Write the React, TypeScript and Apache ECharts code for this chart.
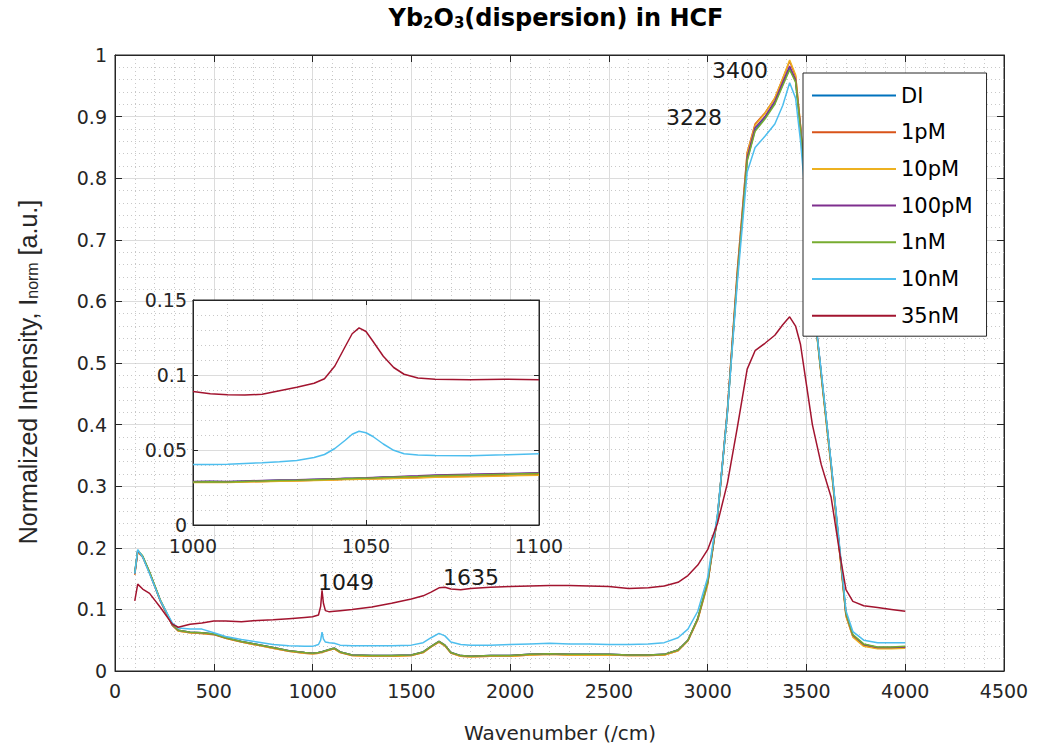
import React, { useEffect, useRef } from "react";
import * as echarts from "echarts";

// ---------- data (main spectrum) ----------
const wavenumbers = [
  100, 115, 140, 175, 230, 290, 320, 380,
  440, 500, 560, 640, 720, 800, 880, 960,
  1000, 1030, 1041, 1048, 1055, 1065, 1085, 1110,
  1140, 1200, 1300, 1400, 1500, 1560, 1600, 1640,
  1670, 1700, 1750, 1800, 1900, 2000, 2100, 2200,
  2300, 2400, 2500, 2600, 2700, 2780, 2850, 2900,
  2950, 3000, 3050, 3100, 3150, 3200, 3240, 3290,
  3340, 3380, 3415, 3445, 3470, 3500, 3530, 3575,
  3625, 3670, 3700, 3735, 3790, 3860, 3930, 4000,
];

const diValues = [
  0.158, 0.195, 0.186, 0.160, 0.114, 0.075, 0.066, 0.063,
  0.062, 0.060, 0.054, 0.048, 0.043, 0.038, 0.033, 0.030,
  0.029, 0.030, 0.031, 0.031, 0.032, 0.033, 0.035, 0.037,
  0.031, 0.026, 0.025, 0.025, 0.026, 0.031, 0.040, 0.048,
  0.042, 0.030, 0.025, 0.024, 0.025, 0.025, 0.027, 0.028,
  0.027, 0.027, 0.027, 0.026, 0.026, 0.027, 0.034, 0.050,
  0.085, 0.143, 0.250, 0.420, 0.640, 0.830, 0.878, 0.898,
  0.922, 0.952, 0.978, 0.958, 0.880, 0.760, 0.615, 0.482,
  0.335, 0.190, 0.092, 0.058, 0.043, 0.038, 0.038, 0.039,
];

const pM1Values = [
  0.156, 0.193, 0.185, 0.159, 0.113, 0.074, 0.065, 0.062,
  0.061, 0.059, 0.053, 0.047, 0.042, 0.037, 0.032, 0.029,
  0.028, 0.029, 0.030, 0.030, 0.031, 0.032, 0.034, 0.036,
  0.030, 0.025, 0.024, 0.024, 0.025, 0.030, 0.039, 0.047,
  0.041, 0.029, 0.024, 0.023, 0.024, 0.024, 0.026, 0.027,
  0.026, 0.026, 0.026, 0.025, 0.025, 0.026, 0.033, 0.049,
  0.084, 0.142, 0.252, 0.425, 0.650, 0.842, 0.888, 0.906,
  0.930, 0.962, 0.990, 0.966, 0.885, 0.762, 0.615, 0.480,
  0.332, 0.187, 0.090, 0.056, 0.041, 0.037, 0.037, 0.038,
];

const pM10Values = [
  0.157, 0.194, 0.185, 0.160, 0.114, 0.075, 0.065, 0.062,
  0.061, 0.060, 0.053, 0.047, 0.042, 0.037, 0.032, 0.029,
  0.028, 0.029, 0.030, 0.030, 0.031, 0.032, 0.034, 0.036,
  0.030, 0.025, 0.024, 0.024, 0.025, 0.030, 0.039, 0.047,
  0.041, 0.029, 0.024, 0.023, 0.024, 0.024, 0.026, 0.027,
  0.026, 0.026, 0.026, 0.025, 0.025, 0.026, 0.033, 0.049,
  0.083, 0.140, 0.250, 0.423, 0.648, 0.840, 0.886, 0.905,
  0.930, 0.962, 0.992, 0.968, 0.886, 0.762, 0.613, 0.478,
  0.330, 0.185, 0.089, 0.055, 0.040, 0.036, 0.036, 0.037,
];

const pM100Values = [
  0.158, 0.195, 0.186, 0.160, 0.114, 0.075, 0.066, 0.063,
  0.062, 0.060, 0.054, 0.048, 0.043, 0.038, 0.033, 0.030,
  0.029, 0.030, 0.031, 0.031, 0.032, 0.033, 0.035, 0.037,
  0.031, 0.026, 0.025, 0.025, 0.026, 0.031, 0.040, 0.048,
  0.042, 0.030, 0.025, 0.024, 0.025, 0.025, 0.027, 0.028,
  0.027, 0.027, 0.027, 0.026, 0.026, 0.027, 0.034, 0.050,
  0.085, 0.144, 0.252, 0.422, 0.642, 0.834, 0.882, 0.900,
  0.925, 0.956, 0.982, 0.960, 0.882, 0.762, 0.616, 0.483,
  0.336, 0.191, 0.093, 0.058, 0.043, 0.038, 0.038, 0.039,
];

const nM1Values = [
  0.160, 0.196, 0.187, 0.161, 0.115, 0.076, 0.066, 0.063,
  0.062, 0.060, 0.054, 0.048, 0.043, 0.038, 0.033, 0.030,
  0.029, 0.030, 0.031, 0.031, 0.032, 0.033, 0.035, 0.037,
  0.031, 0.026, 0.025, 0.025, 0.026, 0.031, 0.040, 0.048,
  0.042, 0.030, 0.025, 0.024, 0.025, 0.025, 0.027, 0.028,
  0.027, 0.027, 0.027, 0.026, 0.026, 0.027, 0.034, 0.050,
  0.086, 0.145, 0.253, 0.420, 0.638, 0.828, 0.876, 0.896,
  0.920, 0.950, 0.976, 0.956, 0.878, 0.758, 0.614, 0.482,
  0.336, 0.192, 0.094, 0.059, 0.044, 0.039, 0.039, 0.040,
];

const nM10Values = [
  0.158, 0.197, 0.185, 0.158, 0.114, 0.078, 0.070, 0.068,
  0.068, 0.062, 0.056, 0.051, 0.047, 0.043, 0.041, 0.040,
  0.040, 0.043, 0.050, 0.063, 0.052, 0.047, 0.046, 0.045,
  0.042, 0.041, 0.041, 0.041, 0.042, 0.046, 0.054, 0.061,
  0.057, 0.047, 0.043, 0.042, 0.042, 0.043, 0.044, 0.045,
  0.044, 0.044, 0.043, 0.043, 0.044, 0.046, 0.054, 0.068,
  0.097, 0.152, 0.255, 0.420, 0.630, 0.810, 0.850, 0.868,
  0.888, 0.918, 0.955, 0.930, 0.860, 0.750, 0.612, 0.486,
  0.338, 0.196, 0.098, 0.064, 0.050, 0.046, 0.046, 0.046,
];

const nM35Values = [
  0.114, 0.141, 0.133, 0.126, 0.103, 0.076, 0.071, 0.076,
  0.078, 0.081, 0.081, 0.080, 0.082, 0.083, 0.085, 0.087,
  0.088, 0.091, 0.105, 0.131, 0.110, 0.098, 0.096, 0.097,
  0.098, 0.100, 0.104, 0.110, 0.117, 0.122, 0.128, 0.135,
  0.136, 0.133, 0.132, 0.134, 0.136, 0.137, 0.138, 0.139,
  0.139, 0.138, 0.137, 0.134, 0.135, 0.138, 0.144, 0.155,
  0.172, 0.197, 0.240, 0.305, 0.395, 0.490, 0.520, 0.532,
  0.545, 0.562, 0.575, 0.560, 0.530, 0.465, 0.400, 0.335,
  0.282, 0.188, 0.132, 0.113, 0.106, 0.103, 0.100, 0.097,
];

// ---------- data (inset, 1000-1100 /cm) ----------
const insetWavenumbers = [
  1000, 1005, 1010, 1015, 1020, 1025, 1030, 1035, 1038, 1041, 1044, 1046,
  1048, 1050, 1052, 1055, 1058, 1061, 1065, 1070, 1080, 1090, 1100,
];
const insetDi = [
  0.0288, 0.029, 0.0288, 0.0292, 0.0295, 0.0298, 0.030, 0.0303, 0.0305, 0.0307, 0.031, 0.031,
  0.0312, 0.0313, 0.0315, 0.0318, 0.032, 0.0322, 0.0325, 0.033, 0.0335, 0.034, 0.0345,
];
const insetPM1 = [
  0.0285, 0.0287, 0.0285, 0.0288, 0.029, 0.0293, 0.0295, 0.0298, 0.030, 0.0302, 0.0305, 0.0305,
  0.0307, 0.0308, 0.0308, 0.031, 0.0312, 0.0314, 0.0316, 0.032, 0.0325, 0.033, 0.0335,
];
const insetPM10 = [
  0.0283, 0.0285, 0.0284, 0.0287, 0.0289, 0.0292, 0.0294, 0.0297, 0.0299, 0.030, 0.0303, 0.0304,
  0.0305, 0.0306, 0.0307, 0.0308, 0.031, 0.0312, 0.0314, 0.0318, 0.0322, 0.0327, 0.0332,
];
const insetPM100 = [
  0.029, 0.0292, 0.029, 0.0294, 0.0297, 0.030, 0.0302, 0.0305, 0.0307, 0.0309, 0.0311, 0.0312,
  0.0314, 0.0315, 0.0317, 0.032, 0.0322, 0.0325, 0.0328, 0.0333, 0.0338, 0.0343, 0.0348,
];
const insetNM1 = [
  0.0287, 0.0289, 0.0286, 0.029, 0.0294, 0.0297, 0.0299, 0.0302, 0.0304, 0.0306, 0.0309, 0.031,
  0.0311, 0.0312, 0.0314, 0.0317, 0.0319, 0.0321, 0.0324, 0.0329, 0.0334, 0.0339, 0.0344,
];
const insetNM10 = [
  0.0404, 0.0403, 0.0405, 0.041, 0.0415, 0.0422, 0.043, 0.045, 0.047, 0.051, 0.0565, 0.0605,
  0.0625, 0.0615, 0.059, 0.054, 0.0498, 0.0475, 0.0467, 0.0463, 0.0462, 0.0468, 0.0475,
];
const insetNM35 = [
  0.089, 0.0875, 0.0868, 0.0866, 0.0872, 0.0895, 0.0918, 0.0945, 0.0975, 0.106, 0.119, 0.1275,
  0.1314, 0.129, 0.1225, 0.1125, 0.105, 0.1005, 0.098, 0.0972, 0.0968, 0.0972, 0.0968,
];

const seriesNames = ["DI", "1pM", "10pM", "100pM", "1nM", "10nM", "35nM"];
const seriesColors = ["#0072BD", "#D95319", "#EDB120", "#7E2F8E", "#77AC30", "#4DBEEE", "#A2142F"];
const mainValues = [diValues, pM1Values, pM10Values, pM100Values, nM1Values, nM10Values, nM35Values];
const insetValues = [insetDi, insetPM1, insetPM10, insetPM100, insetNM1, insetNM10, insetNM35];

const titleText = "Yb{s|2}O{s|3}(dispersion) in HCF";
const xAxisTitle = "Wavenumber (/cm)";
const yAxisTitle = "Normalized Intensity, I{s|norm} [a.u.]";
const annotations = [
  { text: "3400", x: 740, y: 70 },
  { text: "3228", x: 694, y: 117 },
  { text: "1049", x: 346, y: 582 },
  { text: "1635", x: 471, y: 577 },
];

const WIDE = "DejaVu Sans";
const NARROW = "Liberation Sans";
const INK = "#262626";

const plainNumber = (v: number) => String(Number(v.toFixed(4)));

function buildOption(): any {
  const axisLine = { show: true, onZero: false, lineStyle: { color: INK, width: 1 } };
  const majorGrid = { show: true, lineStyle: { color: "#dcdcdc", width: 1 } };
  const minorGrid = { show: true, lineStyle: { color: "#c8c8c8", width: 1, type: [1, 3] } };
  const tickLabel = { fontFamily: WIDE, fontSize: 19, color: INK, formatter: plainNumber };

  const boxAxis = (gridIndex: number, position: string, min: number, max: number, interval: number, len: number, z: number) => ({
    type: "value",
    gridIndex,
    position,
    min,
    max,
    interval,
    z,
    axisLine,
    axisTick: { show: true, inside: true, length: len, lineStyle: { color: INK } },
    axisLabel: { show: false },
    splitLine: { show: false },
  });

  const series: any[] = [];
  seriesNames.forEach((name, k) => {
    series.push({
      name,
      type: "line",
      xAxisIndex: 0,
      yAxisIndex: 0,
      showSymbol: false,
      symbol: "none",
      z: 2,
      lineStyle: { width: 1.5, color: seriesColors[k] },
      itemStyle: { color: seriesColors[k] },
      data: wavenumbers.map((w, i) => [w, mainValues[k][i]]),
    });
  });
  seriesNames.forEach((name, k) => {
    series.push({
      name,
      type: "line",
      xAxisIndex: 2,
      yAxisIndex: 2,
      showSymbol: false,
      symbol: "none",
      z: 3,
      lineStyle: { width: 1.5, color: seriesColors[k] },
      itemStyle: { color: seriesColors[k] },
      data: insetWavenumbers.map((w, i) => [w, insetValues[k][i]]),
    });
  });

  return {
    animation: false,
    backgroundColor: "#ffffff",
    grid: [
      { left: 115, top: 55, width: 889, height: 616, show: true, borderColor: INK, borderWidth: 1, z: 0 },
      { left: 193, top: 300, width: 346, height: 225, show: true, backgroundColor: "#ffffff", borderColor: INK, borderWidth: 1, z: 1 },
    ],
    xAxis: [
      {
        type: "value", gridIndex: 0, position: "bottom", min: 0, max: 4500, interval: 500, z: 0,
        axisLine,
        axisTick: { show: true, inside: true, length: 7, lineStyle: { color: INK } },
        axisLabel: { ...tickLabel, margin: 10 },
        splitLine: majorGrid,
        minorTick: { show: false, splitNumber: 5 },
        minorSplitLine: minorGrid,
      },
      boxAxis(0, "top", 0, 4500, 500, 7, 0),
      {
        type: "value", gridIndex: 1, position: "bottom", min: 1000, max: 1100, interval: 50, z: 2,
        axisLine,
        axisTick: { show: true, inside: true, length: 5, lineStyle: { color: INK } },
        axisLabel: { ...tickLabel, margin: 11 },
        splitLine: majorGrid,
        minorTick: { show: false, splitNumber: 5 },
        minorSplitLine: minorGrid,
      },
      boxAxis(1, "top", 1000, 1100, 50, 5, 2),
    ],
    yAxis: [
      {
        type: "value", gridIndex: 0, position: "left", min: 0, max: 1, interval: 0.1, z: 0,
        axisLine,
        axisTick: { show: true, inside: true, length: 7, lineStyle: { color: INK } },
        axisLabel: { ...tickLabel, margin: 8 },
        splitLine: majorGrid,
        minorTick: { show: false, splitNumber: 5 },
        minorSplitLine: minorGrid,
      },
      boxAxis(0, "right", 0, 1, 0.1, 7, 0),
      {
        type: "value", gridIndex: 1, position: "left", min: 0, max: 0.15, interval: 0.05, z: 2,
        axisLine,
        axisTick: { show: true, inside: true, length: 5, lineStyle: { color: INK } },
        axisLabel: { ...tickLabel, margin: 6 },
        splitLine: majorGrid,
        minorTick: { show: false, splitNumber: 5 },
        minorSplitLine: minorGrid,
      },
      boxAxis(1, "right", 0, 0.15, 0.05, 5, 2),
    ],
    legend: {
      data: seriesNames.map((n) => ({ name: n, icon: "rect" })),
      orient: "vertical",
      left: 803,
      top: 73,
      padding: [12, 14, 10, 9],
      itemWidth: 84,
      itemHeight: 2,
      itemGap: 15.7,
      backgroundColor: "#ffffff",
      borderColor: INK,
      borderWidth: 1,
      borderRadius: 0,
      z: 6,
      textStyle: { fontFamily: WIDE, fontSize: 21, color: "#000", lineHeight: 14 },
    },
    graphic: [
      {
        type: "text", x: 556, y: 18, z: 10,
        style: {
          text: titleText, fontFamily: WIDE, fontSize: 24, fontWeight: "bold", fill: "#000",
          align: "center", verticalAlign: "middle",
          rich: { s: { fontFamily: WIDE, fontSize: 15, fontWeight: "bold", fill: "#000", verticalAlign: "bottom", lineHeight: 6 } },
        },
      },
      {
        type: "text", x: 560, y: 733, z: 10,
        style: { text: xAxisTitle, fontFamily: WIDE, fontSize: 20, fill: INK, align: "center", verticalAlign: "middle" },
      },
      {
        type: "text", x: 28, y: 372, rotation: Math.PI / 2, z: 10,
        style: {
          text: yAxisTitle, fontFamily: NARROW, fontSize: 25, fill: INK, align: "center", verticalAlign: "middle",
          rich: { s: { fontFamily: NARROW, fontSize: 16, fill: INK, verticalAlign: "bottom", lineHeight: 8 } },
        },
      },
      ...annotations.map((a) => ({
        type: "text", x: a.x, y: a.y, z: 10,
        style: { text: a.text, fontFamily: WIDE, fontSize: 22, fill: "#1a1a1a", align: "center", verticalAlign: "middle" },
      })),
    ],
    series,
  };
}

export default function App() {
  const ref = useRef<HTMLDivElement>(null);
  useEffect(() => {
    if (!ref.current) return;
    const chart = echarts.init(ref.current, undefined, { renderer: "svg" });
    chart.setOption(buildOption());
    return () => chart.dispose();
  }, []);
  return (
    <div
      ref={ref}
      style={{ position: "fixed", left: 0, top: 0, width: 1040, height: 748, background: "#ffffff" }}
    />
  );
}
